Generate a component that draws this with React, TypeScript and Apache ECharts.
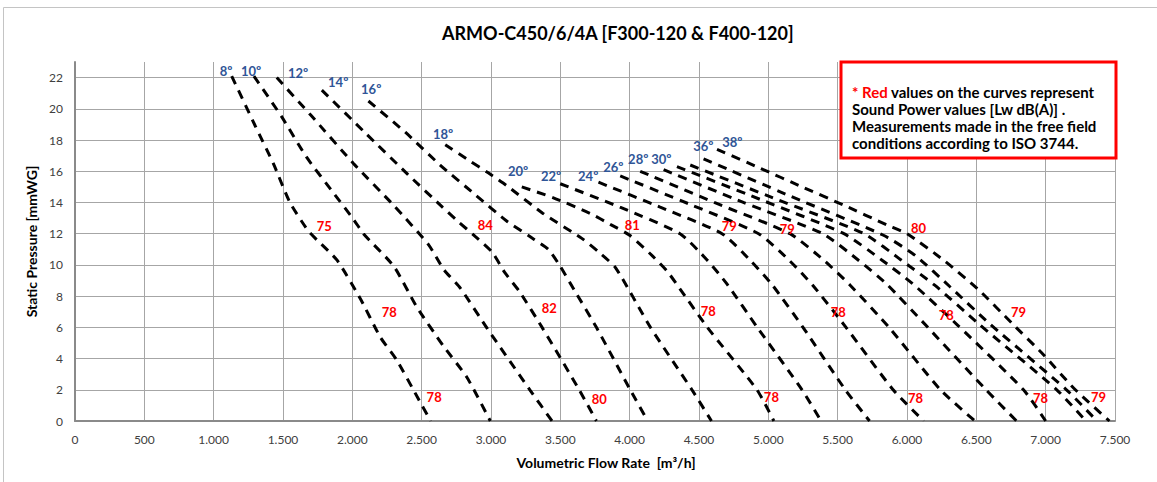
import React, { useEffect, useRef } from "react";
import * as echarts from "echarts";

const TITLE = "ARMO-C450/6/4A [F300-120 & F400-120]";
const X_NAME = "Volumetric Flow Rate  [m³/h]";
const Y_NAME = "Static Pressure [mmWG]";

const angles = ["8º", "10º", "12º", "14º", "16º", "18º", "20º", "22º", "24º", "26º", "28º", "30º", "32º", "34º", "36º", "38º"];

const curve08 = [[1130, 22.1], [1300, 18.9], [1430, 16.5], [1550, 14.0], [1680, 12.2], [1745, 11.6], [1890, 10.3], [2060, 7.8], [2200, 5.4], [2320, 3.9], [2465, 1.6], [2565, 0]];
const curve10 = [[1290, 22.1], [1490, 19.5], [1670, 16.9], [1865, 14.6], [2010, 12.9], [2080, 12.0], [2300, 9.9], [2465, 7.3], [2657, 4.8], [2826, 2.8], [2995, 0]];
const curve12 = [[1455, 22.0], [1700, 19.6], [2008, 16.5], [2300, 13.8], [2549, 11.3], [2660, 9.7], [2780, 8.5], [2975, 5.9], [3280, 2.0], [3440, 0]];
const curve14 = [[1780, 21.2], [2100, 18.4], [2400, 15.8], [2650, 13.7], [2760, 12.8], [2890, 11.8], [3010, 10.8], [3100, 9.5], [3205, 8.3], [3375, 5.9], [3636, 2.0], [3760, 0]];
const curve16 = [[2116, 20.5], [2382, 18.5], [2633, 16.4], [2886, 14.5], [3115, 12.8], [3283, 11.8], [3413, 11.0], [3500, 9.9], [3600, 8.4], [3760, 6.0], [4004, 2.0], [4130, 0]];
const curve18 = [[2670, 17.7], [2840, 16.7], [2980, 15.9], [3110, 15.1], [3375, 13.3], [3655, 11.7], [3780, 10.8], [3900, 9.8], [4150, 6.0], [4449, 2.0], [4590, 0]];
const curve20 = [[3222, 15.0], [3450, 14.3], [3715, 13.3], [3860, 12.6], [4000, 11.9], [4150, 10.7], [4270, 9.6], [4360, 8.5], [4560, 6.0], [4918, 2.0], [5040, 0]];
const curve22 = [[3499, 15.2], [3930, 13.7], [4363, 12.0], [4560, 10.3], [4700, 8.8], [4920, 6.0], [5243, 2.0], [5380, 0]];
const curve24 = [[3775, 15.3], [4220, 13.7], [4666, 12.0], [4880, 10.2], [5030, 8.7], [5250, 6.0], [5555, 2.0], [5730, 0]];
const curve26 = [[3932, 15.7], [4430, 13.9], [4930, 12.0], [5150, 10.3], [5320, 8.7], [5560, 6.0], [5900, 2.0], [6120, 0]];
const curve28 = [[4076, 16.0], [4610, 14.0], [5156, 12.0], [5400, 10.3], [5590, 8.7], [5870, 6.0], [6241, 2.0], [6490, 0]];
const curve30 = [[4245, 16.1], [4820, 14.0], [5393, 12.0], [5650, 10.3], [5850, 8.8], [6150, 6.0], [6570, 2.0], [6790, 0]];
const curve32 = [[4341, 16.3], [4940, 14.2], [5545, 12.0], [5820, 10.3], [6040, 8.8], [6370, 6.1], [6840, 2.0], [7000, 0]];
const curve34 = [[4437, 16.4], [5060, 14.2], [5690, 12.0], [5960, 10.3], [6200, 8.7], [6520, 6.2], [7080, 2.0], [7290, 0]];
const curve36 = [[4533, 16.8], [5160, 14.4], [5830, 11.9], [6060, 10.6], [6310, 8.6], [6600, 6.2], [7150, 2.0], [7370, 0]];
const curve38 = [[4630, 17.4], [4940, 16.2], [5243, 15.0], [5550, 13.8], [5856, 12.56], [6000, 12.0], [6265, 10.3], [6517, 8.4], [6757, 6.26], [6986, 4.23], [7203, 2.1], [7460, 0]];

const curves = [curve08, curve10, curve12, curve14, curve16, curve18, curve20, curve22, curve24, curve26, curve28, curve30, curve32, curve34, curve36, curve38];

// angle annotations: [flow, pressure, text]
const angleLabels: [number, number, string][] = [
  [1090, 22.4, "8º"], [1270, 22.4, "10º"], [1609, 22.3, "12º"], [1898, 21.7, "14º"], [2136, 21.3, "16º"],
  [2655, 18.4, "18º"], [3196, 16.0, "20º"], [3434, 15.7, "22º"], [3701, 15.7, "24º"], [3882, 16.3, "26º"],
  [4062, 16.8, "28º"], [4228, 16.8, "30º"], [4531, 17.6, "36º"], [4740, 17.9, "38º"],
];

// sound power annotations: [flow, pressure, dB(A)]
const soundLabels: [number, number, string][] = [
  [1797, 12.5, "75"], [2958, 12.56, "84"], [4019, 12.56, "81"], [4719, 12.5, "79"], [5137, 12.3, "79"], [6083, 12.37, "80"],
  [2266, 7.0, "78"], [3420, 7.24, "82"], [4567, 7.05, "78"], [5505, 7.0, "78"], [6284, 6.8, "78"], [6804, 7.0, "79"],
  [2590, 1.54, "78"], [3781, 1.41, "80"], [5022, 1.54, "78"], [6061, 1.47, "78"], [6963, 1.47, "78"], [7381, 1.54, "79"],
];

const noteLines = [
  "{r|* Red} values on the curves represent",
  "Sound Power values [Lw dB(A)] .",
  "Measurements made in the free field",
  "conditions according to ISO 3744.",
];

const FONT = "Lato, 'Open Sans', sans-serif";

export default function App() {
  const ref = useRef<HTMLDivElement>(null);
  useEffect(() => {
    if (!ref.current) return;
    const chart = echarts.init(ref.current, undefined, { renderer: "svg" });
    const lineSeries = curves.map((d, i) => ({
      type: "line",
      name: angles[i],
      data: d,
      symbol: "none",
      showSymbol: false,
      smooth: 0.2,
      silent: true,
      lineStyle: { color: "#000", width: 3, type: [9, 7], cap: "butt" },
      z: 2,
    }));
    const textSeries = (arr: [number, number, string][], color: string) => ({
      type: "custom",
      silent: true,
      z: 5,
      data: arr.map((a) => [a[0], a[1]]),
      renderItem: (params: any, api: any) => {
        const p = api.coord([api.value(0), api.value(1)]);
        return {
          type: "text",
          x: p[0],
          y: p[1],
          style: {
            text: arr[params.dataIndex][2],
            fill: color,
            fontSize: 13,
            fontWeight: "bold",
            fontFamily: FONT,
            align: "center",
            verticalAlign: "middle",
          },
        };
      },
    });
    chart.setOption({
      animation: false,
      backgroundColor: "#fff",
      textStyle: { fontFamily: FONT },
      title: {
        text: TITLE,
        left: 437,
        top: 19,
        textStyle: { fontSize: 18, fontWeight: "bold", color: "#000", fontFamily: FONT },
      },
      grid: { left: 75, right: 42, top: 62, bottom: 61 },
      xAxis: {
        type: "value",
        min: 0,
        max: 7500,
        interval: 500,
        name: X_NAME,
        nameLocation: "middle",
        nameGap: 34,
        nameTextStyle: { fontSize: 14, fontWeight: "bold", color: "#000", fontFamily: FONT, padding: [0, 0, 0, 22] },
        axisLine: { show: true, lineStyle: { color: "#8a8a8a", width: 2 } },
        axisTick: { show: false },
        axisLabel: {
          margin: 12,
          fontSize: 12,
          color: "#404040",
          fontFamily: FONT,
          formatter: (v: number) => (v >= 1000 ? `${Math.floor(v / 1000)}.${String(v % 1000).padStart(3, "0")}` : String(v)),
        },
        splitLine: { show: true, lineStyle: { color: "#a6a6a6", width: 1 } },
      },
      yAxis: {
        type: "value",
        min: 0,
        max: 23,
        interval: 2,
        name: Y_NAME,
        nameLocation: "middle",
        nameGap: 34,
        nameTextStyle: { fontSize: 14, fontWeight: "bold", color: "#000", fontFamily: FONT },
        axisLine: { show: true, lineStyle: { color: "#8a8a8a", width: 2 } },
        axisTick: { show: false },
        axisLabel: {
          margin: 12,
          fontSize: 12,
          color: "#404040",
          fontFamily: FONT,
          formatter: (v: number) => (v > 22 ? "" : String(v)),
        },
        splitLine: { show: true, showMaxLine: false, lineStyle: { color: "#a6a6a6", width: 1 } },
      },
      series: [...lineSeries, textSeries(angleLabels, "#2F5597"), textSeries(soundLabels, "#FF0000")],
      graphic: [
        {
          type: "rect",
          silent: true,
          z: -10,
          shape: { x: 3.5, y: 7.5, width: 1200, height: 520 },
          style: { fill: "none", stroke: "#c4c4c4", lineWidth: 1 },
        },
        {
          type: "rect",
          silent: true,
          z: 100,
          shape: { x: 841, y: 62, width: 275, height: 96 },
          style: { fill: "#fff", stroke: "#FF0000", lineWidth: 3 },
        },
        {
          type: "text",
          silent: true,
          z: 101,
          x: 852,
          y: 83,
          style: {
            text: noteLines.join("\n"),
            fill: "#000",
            fontSize: 15,
            fontWeight: "bold",
            fontFamily: FONT,
            lineHeight: 17,
            verticalAlign: "top",
            rich: {
              r: { fill: "#FF0000", fontSize: 15, fontWeight: "bold", fontFamily: FONT, lineHeight: 17 },
            },
          },
        },
      ],
    });
    return () => chart.dispose();
  }, []);
  return <div ref={ref} style={{ position: "absolute", left: 0, top: 0, width: 1157, height: 482 }} />;
}
